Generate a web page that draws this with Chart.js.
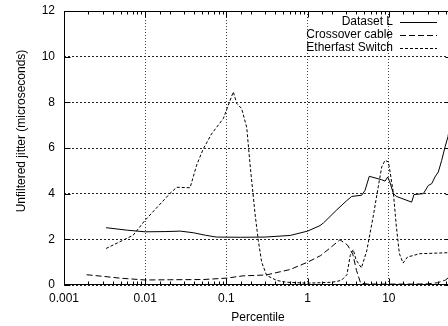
<!DOCTYPE html>
<html>
<head>
<meta charset="utf-8">
<script src="https://cdn.jsdelivr.net/npm/chart.js@4.4.1/dist/chart.umd.min.js"></script>
<style>
  html, body { margin: 0; padding: 0; background: #fff; overflow: hidden; }
  .chart_container { width: 448px; height: 326px; overflow: hidden; }
</style>
</head>
<body>
<div class="chart_container">
  <canvas id="myChart" width="456" height="326"></canvas>
</div>
<script>
// percentile (x) and jitter in microseconds (y)
var datasetLPct = [0.0033, 0.006, 0.01, 0.018, 0.027, 0.039, 0.055, 0.075, 0.15, 0.3, 0.61, 1.0, 1.42, 1.57, 2.3, 3.0, 3.49, 4.63, 5.09, 5.75, 8.18, 8.98, 9.69, 10.3, 11.4, 12.4, 19.1, 20.4, 26.6, 30.7, 33.8, 37, 40.7, 44.8, 49.2, 53.6, 60];
var datasetLJitter = [2.51, 2.4, 2.33, 2.34, 2.36, 2.29, 2.18, 2.1, 2.09, 2.1, 2.17, 2.36, 2.6, 2.72, 3.3, 3.68, 3.88, 3.93, 4.14, 4.76, 4.61, 4.55, 4.73, 4.51, 4.0, 3.88, 3.63, 3.96, 4.0, 4.36, 4.44, 4.73, 4.95, 5.46, 6.04, 6.5, 7.6];

var crossoverPct = [0.0019, 0.003, 0.0049, 0.01, 0.02, 0.052, 0.1, 0.16, 0.31, 0.61, 1.0, 1.45, 1.95, 2.5, 3.1, 3.6, 4.0, 4.5, 5.5, 10, 20, 30, 40, 50, 60];
var crossoverJitter = [0.45, 0.38, 0.3, 0.22, 0.23, 0.24, 0.3, 0.4, 0.44, 0.68, 1.0, 1.29, 1.66, 1.98, 1.75, 1.35, 0.64, 0.08, 0.04, 0.04, 0.04, 0.05, 0.1, 0.22, 0.45];

var switchPct = [0.0033, 0.0071, 0.01, 0.0202, 0.0245, 0.0357, 0.043, 0.052, 0.066, 0.0916, 0.1, 0.1216, 0.134, 0.154, 0.178, 0.195, 0.225, 0.247, 0.272, 0.313, 0.417, 0.553, 1.0, 2.0, 2.6, 3.05, 3.35, 3.65, 3.95, 4.6, 5.35, 6.4, 7.4, 8.18, 8.98, 9.88, 10.45, 11.4, 12.4, 13.5, 15.0, 16.9, 23.8, 60];
var switchJitter = [1.6, 2.18, 2.84, 4.01, 4.28, 4.26, 5.25, 5.97, 6.63, 7.29, 7.65, 8.46, 7.95, 7.73, 6.9, 5.32, 3.13, 1.95, 1.0, 0.42, 0.2, 0.12, 0.08, 0.12, 0.2, 0.45, 1.3, 1.55, 1.1, 0.75, 1.5, 2.97, 4.29, 5.17, 5.46, 5.39, 4.88, 4.0, 2.54, 1.37, 0.96, 1.22, 1.37, 1.42];

var seriesLabels = ['Dataset L', 'Crossover cable', 'Etherfast Switch'];
var seriesDash = [[], [6, 3], [3, 2]];

var xTickValues = [0.001, 0.01, 0.1, 1, 10];
var xTickLabels = ['0.001', '0.01', '0.1', '1', '10'];
var yTickValues = [0, 2, 4, 6, 8, 10, 12];
var xTitle = 'Percentile';
var yTitle = 'Unfiltered jitter (microseconds)';

function decadeIndex(v) {
  for (var i = 0; i < xTickValues.length; i++) {
    if (Math.abs(Math.log10(v) - Math.log10(xTickValues[i])) < 1e-6) return i;
  }
  return -1;
}

function toPoints(xs, ys) {
  return xs.map(function (x, i) { return { x: x, y: ys[i] }; });
}

var FONT = "'Liberation Sans', Arial, Helvetica, sans-serif";

// gnuplot look: full frame, inward ticks, key with sample on the right, axis labels
var gnuplotBits = {
  id: 'gnuplotBits',
  afterDatasetsDraw: function (chart) {
    var ctx = chart.ctx, a = chart.chartArea;
    var xs = chart.scales.x, ys = chart.scales.y;
    var l = Math.round(a.left) + 0.5, r = Math.round(a.right) - 0.5;
    var t = Math.round(a.top) + 0.5, b = Math.round(a.bottom) - 0.5;
    ctx.save();
    ctx.strokeStyle = '#000';
    ctx.lineWidth = 1;
    ctx.setLineDash([]);
    ctx.beginPath();
    ctx.rect(l, t, r - l, b - t);
    xs.ticks.forEach(function (tk) {
      var px = Math.round(xs.getPixelForValue(tk.value)) + 0.5;
      var len = decadeIndex(tk.value) >= 0 ? 6 : 3;
      ctx.moveTo(px, b); ctx.lineTo(px, b - len);
      ctx.moveTo(px, t); ctx.lineTo(px, t + len);
    });
    ys.ticks.forEach(function (tk) {
      var py = Math.round(ys.getPixelForValue(tk.value)) + 0.5;
      ctx.moveTo(l, py); ctx.lineTo(l + 6, py);
      ctx.moveTo(r, py); ctx.lineTo(r - 6, py);
    });
    ctx.stroke();

    // key
    ctx.font = '12px ' + FONT;
    ctx.fillStyle = '#000';
    ctx.textAlign = 'right';
    ctx.textBaseline = 'middle';
    chart.data.datasets.forEach(function (ds, i) {
      var y = 22 + i * 12.8;
      ctx.fillText(ds.label, 393, y);
      ctx.beginPath();
      ctx.setLineDash(ds.borderDash || []);
      ctx.moveTo(400, Math.round(y) + 0.5);
      ctx.lineTo(437, Math.round(y) + 0.5);
      ctx.stroke();
    });
    ctx.setLineDash([]);

    // axis titles
    ctx.textAlign = 'center';
    ctx.fillText(xTitle, 258, 318);
    ctx.translate(22, 131);
    ctx.rotate(-Math.PI / 2);
    ctx.fillText(yTitle, 0, 0);
    ctx.restore();
  }
};

var ctx = document.getElementById('myChart').getContext('2d');
var myChart = new Chart(ctx, {
  type: 'line',
  data: {
    datasets: [{
      label: seriesLabels[0],
      data: toPoints(datasetLPct, datasetLJitter),
      borderColor: '#000',
      borderWidth: 1,
      borderDash: seriesDash[0],
      pointRadius: 0,
      fill: false,
      tension: 0
    }, {
      label: seriesLabels[1],
      data: toPoints(crossoverPct, crossoverJitter),
      borderColor: '#000',
      borderWidth: 1,
      borderDash: seriesDash[1],
      pointRadius: 0,
      fill: false,
      tension: 0
    }, {
      label: seriesLabels[2],
      data: toPoints(switchPct, switchJitter),
      borderColor: '#000',
      borderWidth: 1,
      borderDash: seriesDash[2],
      pointRadius: 0,
      fill: false,
      tension: 0
    }]
  },
  options: {
    responsive: false,
    animation: false,
    devicePixelRatio: 1,
    layout: { padding: { top: 11, right: 4, bottom: 0, left: 0 } },
    plugins: { legend: { display: false }, tooltip: { enabled: false } },
    scales: {
      x: {
        type: 'logarithmic',
        min: 0.001,
        max: 60,
        afterFit: function (s) { s.height = 41; s.paddingLeft = 0; s.paddingRight = 0; },
        grid: {
          drawTicks: false,
          lineWidth: 1,
          color: function (c) {
            return c.tick && decadeIndex(c.tick.value) >= 0 ? '#444' : 'rgba(0,0,0,0)';
          }
        },
        border: { display: false, dash: [1, 2] },
        ticks: {
          autoSkip: false,
          maxRotation: 0,
          padding: 6,
          color: '#000',
          font: { family: FONT, size: 12 },
          callback: function (v) {
            var i = decadeIndex(v);
            return i >= 0 ? xTickLabels[i] : '';
          }
        }
      },
      y: {
        min: yTickValues[0],
        max: yTickValues[yTickValues.length - 1],
        afterFit: function (s) { s.width = 64; s.paddingTop = 0; s.paddingBottom = 0; },
        grid: { drawTicks: false, lineWidth: 1, color: '#222' },
        border: { display: false, dash: [2, 2] },
        ticks: {
          stepSize: 2,
          padding: 9,
          color: '#000',
          font: { family: FONT, size: 12 }
        }
      }
    }
  },
  plugins: [gnuplotBits]
});
</script>
</body>
</html>
